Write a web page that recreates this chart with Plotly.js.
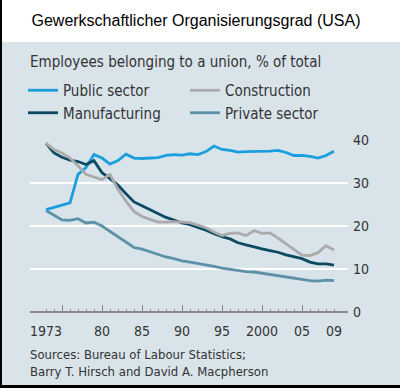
<!DOCTYPE html>
<html>
<head>
<meta charset="utf-8">
<script src="https://cdn.plot.ly/plotly-3.0.1.min.js"></script>
<style>
html,body{margin:0;padding:0;background:#fff;}
#chart{width:400px;height:388px;}
</style>
</head>
<body>
<div id="chart"></div>
<script>
var years = [1973,1974,1975,1976,1977,1978,1979,1980,1981,1982,1983,1984,1985,1986,1987,1988,1989,1990,1991,1992,1993,1994,1995,1996,1997,1998,1999,2000,2001,2002,2003,2004,2005,2006,2007,2008,2009];
var publicSector = [23.8,24.3,24.8,25.4,32.0,33.6,36.6,35.8,34.4,35.2,36.7,35.8,35.7,35.8,35.9,36.4,36.6,36.5,36.8,36.6,37.3,38.6,37.8,37.6,37.2,37.3,37.3,37.4,37.4,37.6,37.1,36.4,36.4,36.2,35.8,36.4,37.4];
var construction = [39.2,37.8,37.0,35.8,34.0,32.0,31.4,30.8,32.0,28.5,25.8,23.4,22.2,21.6,20.9,20.9,21.0,20.9,20.8,20.2,19.6,18.6,17.8,18.3,18.4,17.8,18.9,18.3,18.4,17.2,15.9,14.6,13.2,13.1,13.8,15.4,14.4];
var manufacturing = [39.2,37.0,36.0,35.3,35.0,34.3,35.2,32.4,31.0,29.5,27.5,25.6,24.7,23.8,23.0,22.0,21.4,20.7,20.3,19.7,19.0,18.2,17.5,17.0,16.1,15.6,15.1,14.7,14.3,13.9,13.3,12.8,12.4,11.6,11.2,11.2,10.9];
var privateSector = [23.6,22.5,21.4,21.3,21.7,20.7,20.9,20.0,18.8,17.4,16.4,15.0,14.6,14.0,13.3,12.8,12.4,11.9,11.6,11.3,10.9,10.6,10.2,9.9,9.6,9.4,9.3,9.0,8.8,8.5,8.2,7.9,7.6,7.3,7.2,7.4,7.3];

var xTickVals = [1973,1980,1985,1990,1995,2000,2005,2009];
var xTickText = ['1973','80','85','90','95','2000','05','09'];
var xMajorTicks = [1975,1980,1985,1990,1995,2000,2005];
var yTickVals = [0,10,20,30,40];

var cond = 'DejaVu Sans Condensed, DejaVu Sans, sans-serif';
var bg = '#d9e3ea';
var txt = '#333333';

var traces = [
  {name:'Private sector', x:years, y:privateSector, type:'scatter', mode:'lines', line:{color:'#5c91a8', width:2.8}, legendrank:4},
  {name:'Public sector', x:years, y:publicSector, type:'scatter', mode:'lines', line:{color:'#1a9fdc', width:2.8}, legendrank:1},
  {name:'Manufacturing', x:years, y:manufacturing, type:'scatter', mode:'lines', line:{color:'#0c4a63', width:2.8}, legendrank:3},
  {name:'Construction', x:years, y:construction, type:'scatter', mode:'lines', line:{color:'#ababab', width:2.8}, legendrank:2}
];

var L = 30, R = 348, T = 140, B = 312;
function px(x){ return (x - L) / (R - L); }
function py(y){ return (B - y) / (B - T); }

var layout = {
  width:400, height:388,
  margin:{l:L, r:400-R, t:T, b:388-B, pad:0},
  paper_bgcolor:bg, plot_bgcolor:bg,
  showlegend:true,
  title:{text:'Gewerkschaftlicher Organisierungsgrad (USA)', x:0.49, xanchor:'center', y:1-20/388, yanchor:'middle', yref:'container',
         font:{family:'Liberation Sans, Arial, sans-serif', size:16, color:'#000'}},
  legend:{orientation:'h', x:px(23), xanchor:'left', y:py(74), yanchor:'top', entrywidth:117, entrywidthmode:'pixels',
          itemwidth:30, bgcolor:'rgba(0,0,0,0)', font:{family:cond, size:15, color:txt}, traceorder:'normal', tracegroupgap:0},
  xaxis:{range:[1971, 2010.75], tickmode:'array', tickvals:xTickVals, ticktext:xTickText, ticks:'outside', ticklen:6, tickcolor:'rgba(0,0,0,0)',
         showgrid:false, zeroline:false, showline:false, fixedrange:true,
         tickfont:{family:cond, size:14, color:txt}},
  xaxis2:{range:[1971, 2010.75], overlaying:'x', anchor:'y', side:'bottom', tickmode:'array', tickvals:xMajorTicks, ticks:'inside', ticklen:7, tickwidth:1, tickcolor:'#8c8c8c',
          showticklabels:false, showgrid:false, zeroline:false, showline:false},
  xaxis3:{range:[1971, 2010.75], overlaying:'x', anchor:'y', side:'bottom', tickmode:'array', tickvals:years, ticks:'inside', ticklen:3, tickwidth:1, tickcolor:'#8c8c8c',
          showticklabels:false, showgrid:false, zeroline:false, showline:false},
  yaxis:{range:[0,40], side:'right', tickmode:'array', tickvals:yTickVals, ticks:'', showgrid:true, gridcolor:'#ffffff', gridwidth:2,
         zeroline:true, zerolinecolor:'#8c8c8c', zerolinewidth:1.5, showline:false, fixedrange:true, ticklabelstandoff:4,
         tickfont:{family:cond, size:14, color:txt}},
  shapes:[
    {type:'rect', xref:'paper', yref:'paper', x0:px(0), x1:px(400), y0:py(42), y1:py(0), fillcolor:'#ffffff', line:{width:0}, layer:'below'},
    {type:'line', xref:'paper', yref:'paper', x0:px(1), x1:px(1), y0:py(0), y1:py(388), line:{color:'#000', width:2}},
    {type:'line', xref:'paper', yref:'paper', x0:px(0), x1:px(400), y0:py(386.5), y1:py(386.5), line:{color:'#000', width:3}}
  ],
  annotations:[
    {text:'Employees belonging to a union, % of total', xref:'paper', yref:'paper', x:px(28), y:py(62), xanchor:'left', yanchor:'middle', showarrow:false,
     font:{family:cond, size:15, color:txt}},
    {text:'Sources: Bureau of Labour Statistics;<br>Barry T. Hirsch and David A. Macpherson', xref:'paper', yref:'paper', x:px(28), y:py(345), xanchor:'left', yanchor:'top', align:'left', showarrow:false,
     font:{family:cond, size:13, color:txt}}
  ]
};

traces.push({x:[years[0]], y:[0], xaxis:'x2', yaxis:'y', type:'scatter', mode:'markers', marker:{opacity:0}, showlegend:false, hoverinfo:'skip'});
traces.push({x:[years[0]], y:[0], xaxis:'x3', yaxis:'y', type:'scatter', mode:'markers', marker:{opacity:0}, showlegend:false, hoverinfo:'skip'});

Plotly.newPlot('chart', traces, layout, {displayModeBar:false, staticPlot:true});
</script>
</body>
</html>
